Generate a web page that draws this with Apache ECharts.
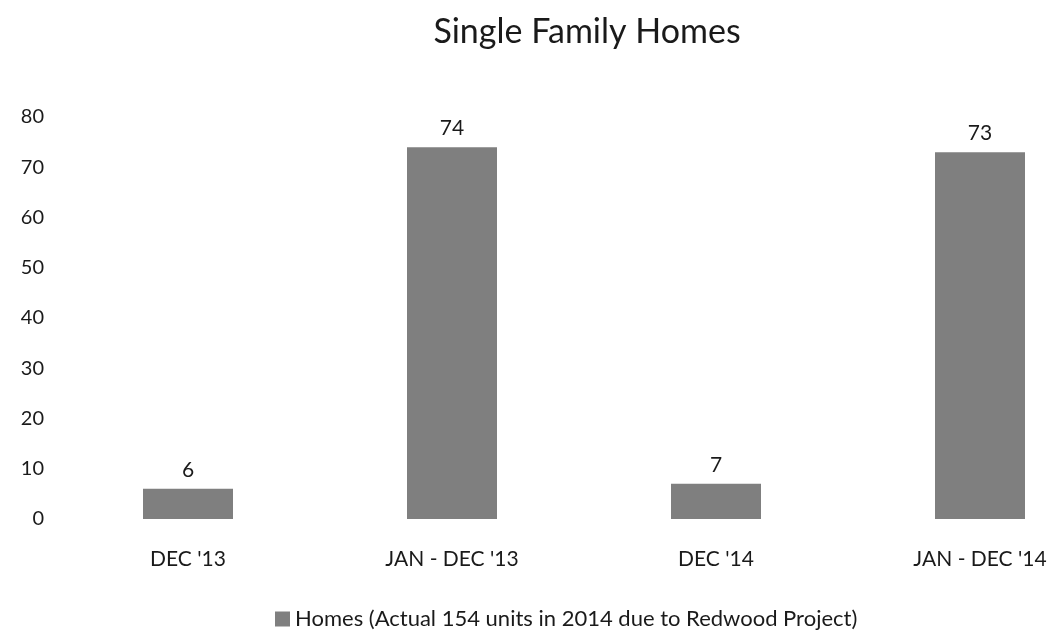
<!DOCTYPE html>
<html>
<head>
<meta charset="utf-8">
<title>Single Family Homes</title>
<script src="https://cdn.jsdelivr.net/npm/echarts@6/dist/echarts.min.js"></script>
<style>
  html, body { margin: 0; padding: 0; background: #fff; }
  #main { width: 1050px; height: 641px; }
</style>
</head>
<body>
<div id="main"></div>
<script>
// values
const categories = ["DEC '13", "JAN - DEC '13", "DEC '14", "JAN - DEC '14"];
const homes = [6, 74, 7, 73];
const seriesName = 'Homes (Actual 154 units in 2014 due to Redwood Project)';

const font = 'Lato, "Open Sans", sans-serif';

const chart = echarts.init(document.getElementById('main'));
chart.setOption({
  backgroundColor: '#fff',
  animation: false,
  title: {
    text: 'Single Family Homes',
    left: 582,
    top: 10,
    textAlign: 'center',
    textStyle: { fontFamily: font, fontSize: 34, fontWeight: 'normal', color: '#1a1a1a' }
  },
  legend: {
    bottom: 6,
    left: 270,
    itemWidth: 15,
    itemHeight: 15,
    icon: 'rect',
    itemGap: 4,
    textStyle: { fontFamily: font, fontSize: 22, color: '#1a1a1a' },
    data: [seriesName]
  },
  // the plot runs a bit past the right edge, like the scan
  grid: { left: 56, right: -62, top: 117, bottom: 122, outerBoundsMode: 'none', containLabel: false },
  xAxis: {
    type: 'category',
    data: categories,
    axisLine: { show: false },
    axisTick: { show: false },
    axisLabel: { margin: 30, fontFamily: font, fontSize: 21, color: '#1a1a1a' }
  },
  yAxis: {
    type: 'value',
    min: 0,
    max: 80,
    interval: 10,
    splitLine: { show: false },
    axisLine: { show: false },
    axisTick: { show: false },
    axisLabel: { margin: 12, fontFamily: font, fontSize: 20, color: '#1a1a1a' }
  },
  series: [{
    name: seriesName,
    type: 'bar',
    data: homes,
    barWidth: 90,
    itemStyle: { color: '#7f7f7f' },
    label: {
      show: true,
      position: 'top',
      distance: 8,
      fontFamily: font,
      fontSize: 21,
      color: '#1a1a1a'
    }
  }]
});
</script>
</body>
</html>
